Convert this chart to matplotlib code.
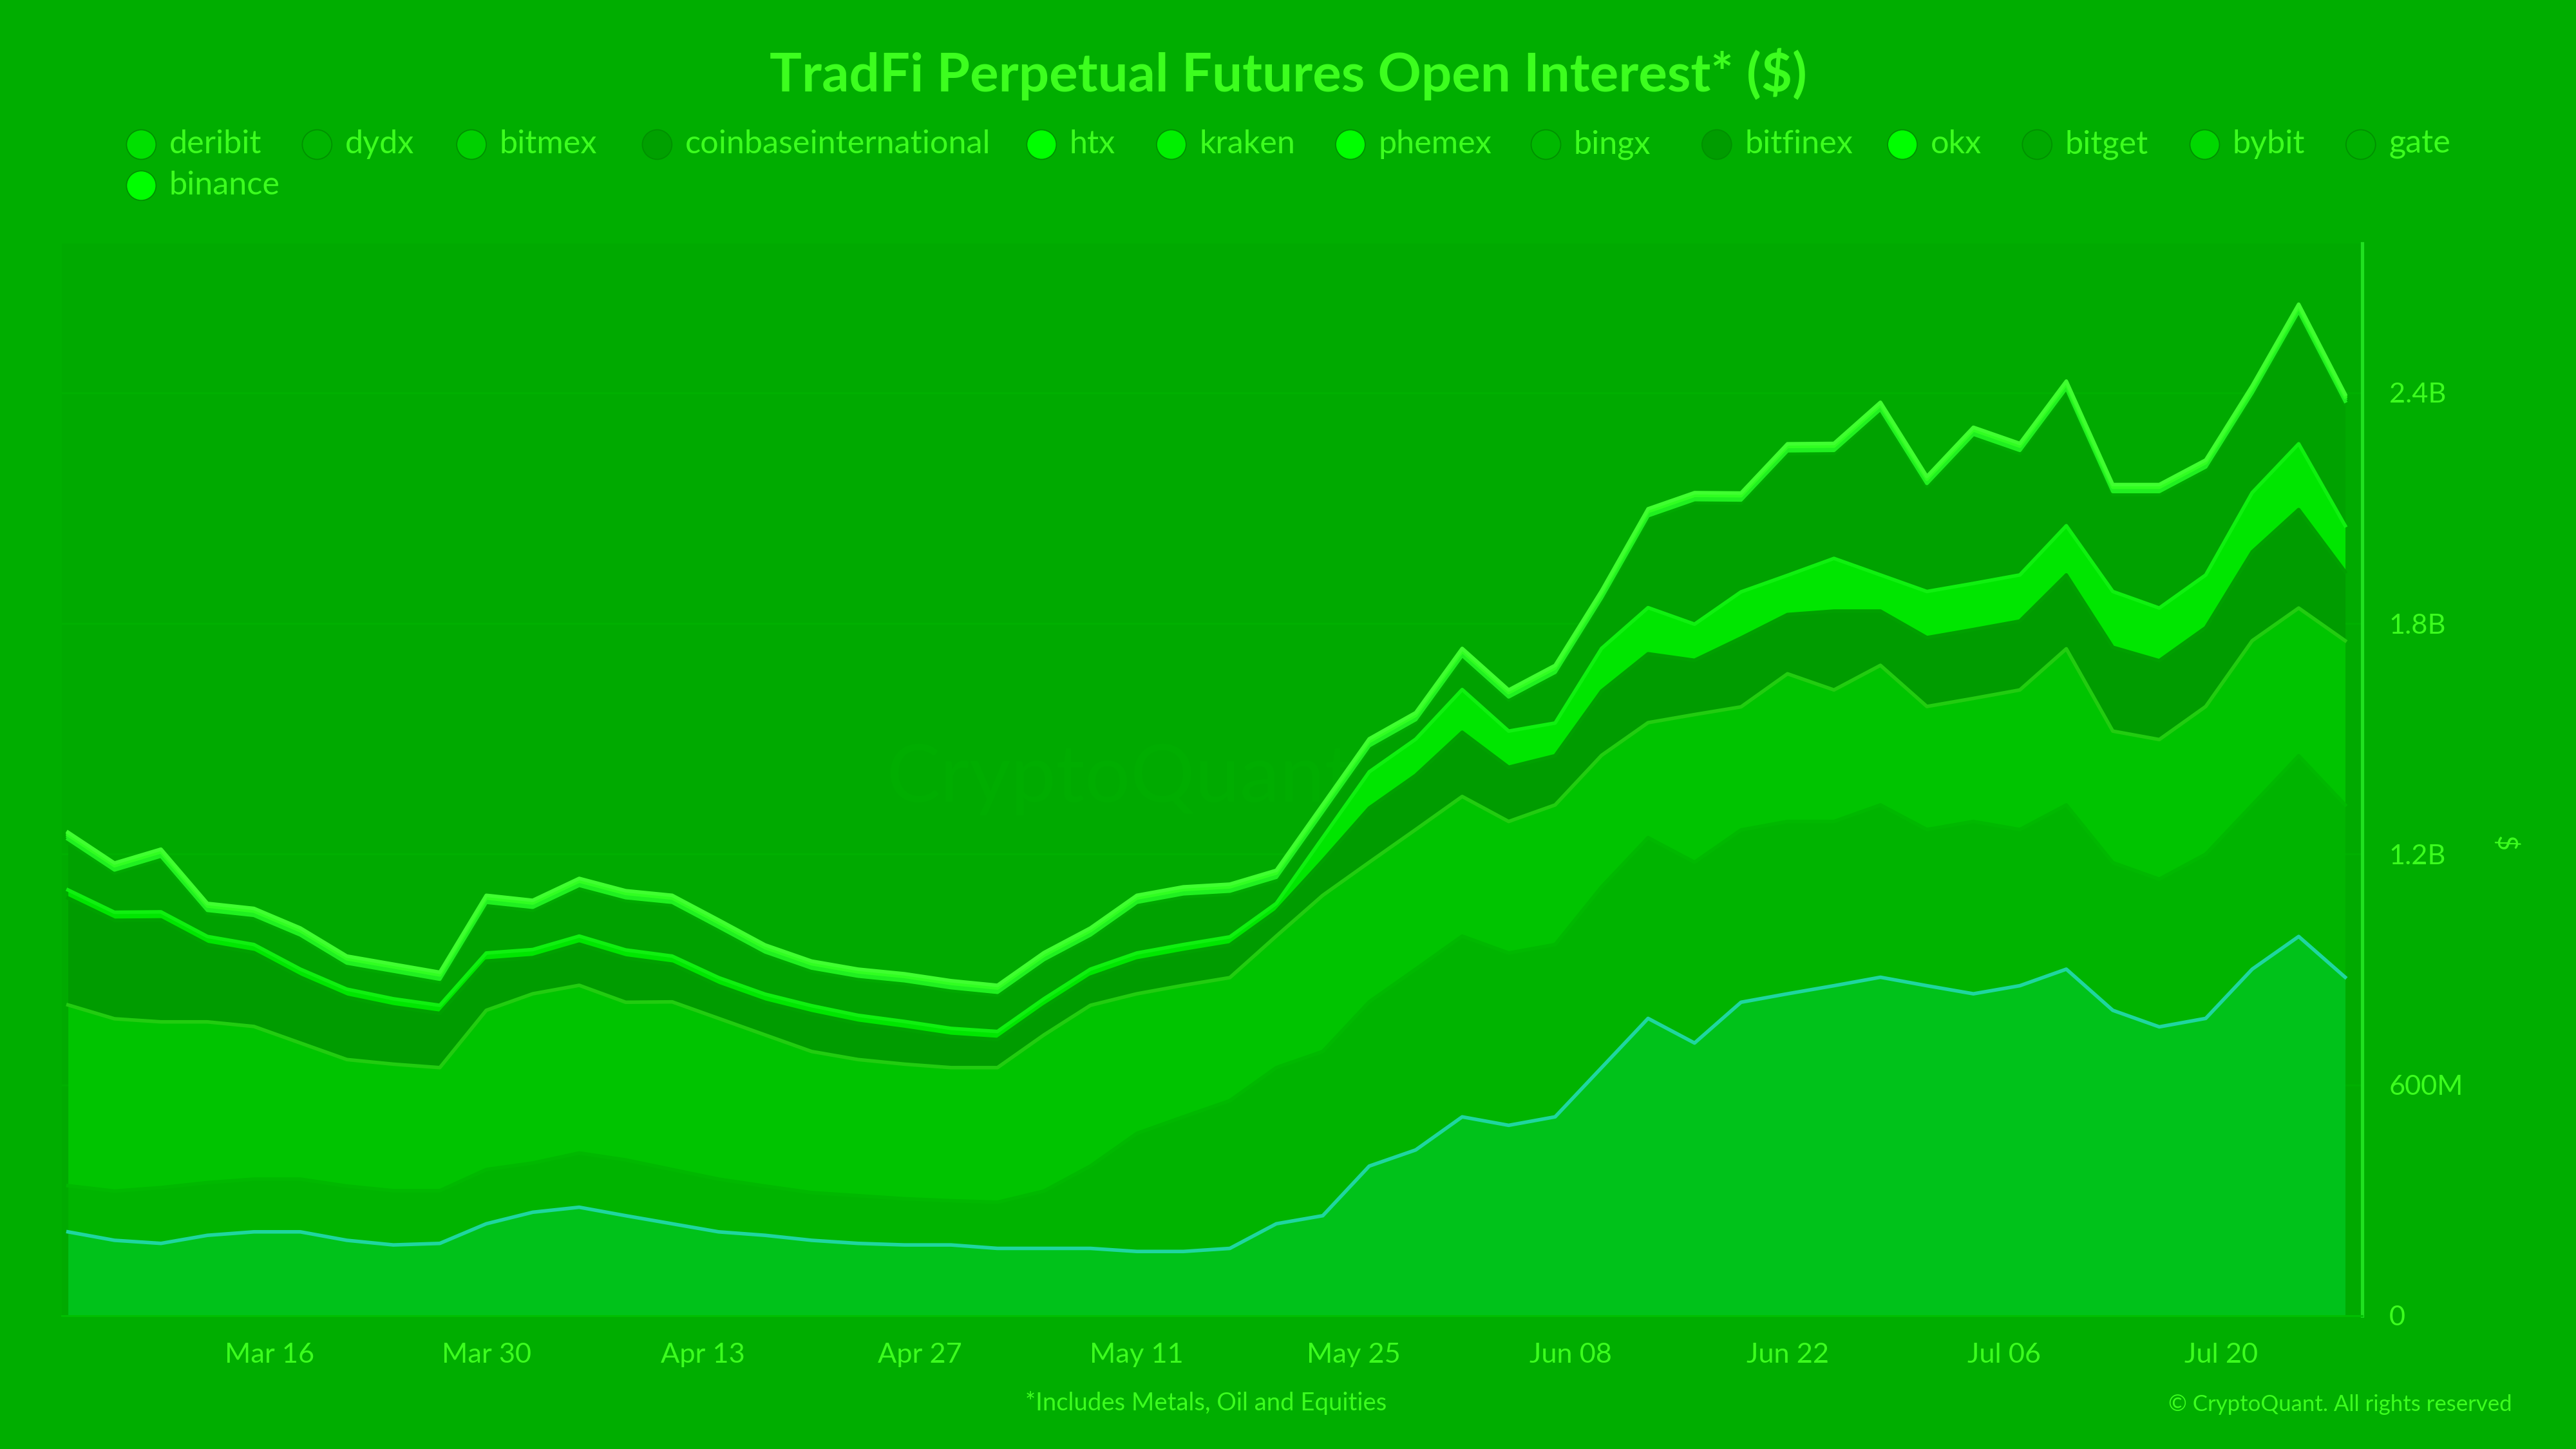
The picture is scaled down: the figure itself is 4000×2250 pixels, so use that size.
import numpy as np
import matplotlib
matplotlib.use("Agg")
import matplotlib.pyplot as plt
import matplotlib.dates as mdates
from matplotlib.patches import Ellipse
import datetime as dt

plt.rcParams['font.family'] = ['Lato', 'DejaVu Sans']

start = dt.date(2025, 3, 3)
dates = [start + dt.timedelta(days=3 * i) for i in range(50)]

# values in $M, stacked bottom -> top
binance = [218,196,188,209,218,218,196,184,188,239,269,282,260,239,218,209,196,188,184,184,
           175,175,175,167,167,175,239,260,389,431,517,495,517,645,773,709,815,837,858,880,
           858,837,858,901,794,751,773,901,986,880]
bybit = [120,128,145,137,137,137,141,141,137,141,128,141,145,141,137,128,124,124,120,115,
         120,149,214,307,350,384,406,427,427,470,470,448,448,470,470,470,448,448,427,448,
         406,448,406,427,384,384,427,427,470,448]
bitget = [470,448,431,418,397,354,329,329,320,414,440,436,410,436,418,393,367,354,350,346,
          350,406,418,363,342,320,342,406,363,363,363,342,363,342,299,384,320,384,342,363,
          320,320,363,406,342,363,384,427,384,427]
gate = [278,256,265,201,192,171,162,149,141,128,94,107,115,98,85,85,98,94,90,81,
        73,73,73,85,85,85,64,90,141,141,167,141,128,167,179,141,179,154,205,141,
        179,179,179,192,218,205,205,231,256,179]
okx = [21]*27 + [60,94,94,111,94,85,111,120,94,120,102,137,94,120,120,120,128,145,137,137,154,171,120]
bingx = [124,102,137,60,68,81,60,64,60,124,102,124,128,132,124,102,90,94,98,98,
         94,94,81,124,124,111,60,60,60,43,81,81,124,124,231,316,231,316,273,423,
         273,380,316,350,252,295,273,252,337,316]
htx = [8]*50
kraken = [6]*50
phemex = [5]*50
deribit = [4]*50
bitmex = [3]*50

layers = [
    ("binance", binance, "#00c21a", "#1fd6a0"),
    ("bybit", bybit, "#00b400", "#00b800"),
    ("bitget", bitget, "#00c400", "#22cc10"),
    ("gate", gate, "#009c00", "#00a000"),
    ("okx", okx, "#00e600", "#10f010"),
    ("bingx", bingx, "#00a200", "#00a800"),
    ("htx", htx, "#00d800", "#20f020"),
    ("kraken", kraken, "#00e000", "#20f020"),
    ("phemex", phemex, "#00ec00", "#30ff20"),
    ("deribit", deribit, "#10f010", "#30ff20"),
    ("bitmex", bitmex, "#20ff20", "#40ff30"),
]

legend_names = ["deribit", "dydx", "bitmex", "coinbaseinternational", "htx", "kraken", "phemex",
                "bingx", "bitfinex", "okx", "bitget", "bybit", "gate", "binance"]
legend_colors = ["#00e000", "#00b400", "#00d000", "#00a000", "#00ff00", "#00f000", "#00ff00",
                 "#00b800", "#009c00", "#00ff00", "#00a800", "#00d800", "#00b000", "#00ff00"]
legend_x = [86, 193, 287, 400, 634, 713, 822, 941, 1045, 1158, 1240, 1342, 1437, 86]
legend_y = [88]*13 + [113]

BG = "#00ae00"
TXT = "#3cff1e"
fig = plt.figure(figsize=(16, 9), dpi=250, facecolor=BG)
ax = fig.add_axes([0.024, 0.092, 0.893, 0.740])
ax.set_facecolor("#00aa00")

x = mdates.date2num(dates)
cum = np.zeros(len(x))
for name, vals, fc, lc in layers:
    v = np.array(vals, dtype=float) * 1e6
    ax.fill_between(x, cum, cum + v, color=fc, lw=0)
    ax.plot(x, cum + v, color=lc, lw=1.6)
    cum = cum + v

ax.set_ylim(0, 2.788e9)
x0 = mdates.date2num(dt.date(2025, 3, 2)) + 0.6
ax.set_xlim(x0, x0 + 148.5)
yt = [0, 0.6e9, 1.2e9, 1.8e9, 2.4e9]
ax.set_yticks(yt)
ax.set_yticklabels(["0", "600M", "1.2B", "1.8B", "2.4B"])
ax.yaxis.tick_right()
for t in yt[1:]:
    ax.axhline(t, color="#00b000", lw=0.8, zorder=0)
xt = [dt.date(2025, 3, 16) + dt.timedelta(days=14 * i) for i in range(10)]
ax.set_xticks(mdates.date2num(xt))
ax.set_xticklabels([d.strftime("%b %d") for d in xt])
ax.tick_params(colors=TXT, labelsize=12.5, length=0, pad=12)
ax.tick_params(axis="y", pad=12)
for s in ["top", "left"]:
    ax.spines[s].set_visible(False)
ax.spines["right"].set_color("#20e020")
ax.spines["right"].set_linewidth(1.5)
ax.spines["bottom"].set_color("#00c000")
ax.text(1.062, 0.44, "$", transform=ax.transAxes, rotation=-90, color=TXT, fontsize=12, ha="center", va="center")
ax.text(0.46, 0.5, "CryptoQuant", transform=ax.transAxes, color="#00b200", fontsize=36,
        ha="center", va="center", alpha=0.4, zorder=0.5)

W, H = 1568, 882
fig.text(784 / W, 1 - 45 / H, "TradFi Perpetual Futures Open Interest* ($)", color=TXT,
         fontsize=24, fontweight="bold", ha="center", va="center")
for n, c, lx, ly in zip(legend_names, legend_colors, legend_x, legend_y):
    fig.patches.append(Ellipse((lx / W, 1 - ly / H), 18 / W, 18 / H, transform=fig.transFigure,
                               facecolor=c, edgecolor="#009000", lw=0.5))
    fig.text((lx + 17) / W, 1 - ly / H, n, color=TXT, fontsize=14.5, ha="left", va="center")
fig.text(734 / W, 1 - 854 / H, "*Includes Metals, Oil and Equities", color=TXT, fontsize=11,
         ha="center", va="center")
fig.text(1529 / W, 1 - 855 / H, "© CryptoQuant. All rights reserved", color=TXT, fontsize=10,
         ha="right", va="center")
fig.savefig("out.png", dpi=250, facecolor=BG)
